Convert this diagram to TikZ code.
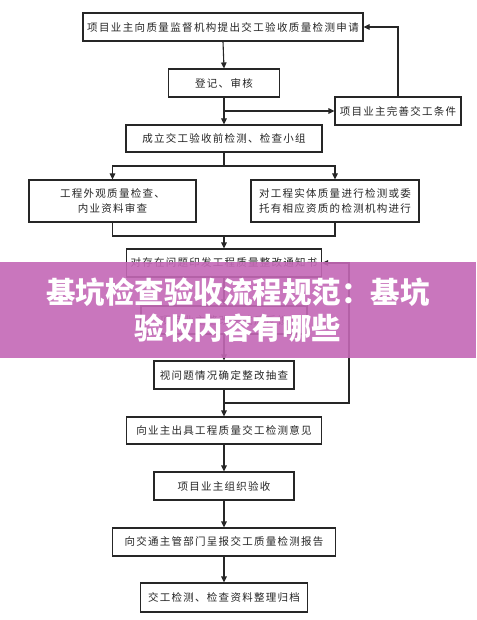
\documentclass[tikz,border=0pt]{standalone}
\usepackage{fontspec}
\setmainfont{Noto Sans CJK SC}
\newfontfamily\boxfont[LetterSpace=12]{Noto Sans CJK SC}
\newfontfamily\widefont[LetterSpace=13]{Noto Sans CJK SC}
\usetikzlibrary{arrows.meta}
\definecolor{bannerpink}{RGB}{196,104,182}
\begin{document}
\begin{tikzpicture}[x=1pt,y=-1pt,
  box/.style={draw=black!85, line width=1.1pt, rectangle, inner sep=0pt,
    font=\boxfont\fontsize{10.5}{15}\selectfont, text=black!85, align=center},
  conn/.style={draw=black!85, line width=1.1pt},
  arr/.style={conn, -{Triangle[length=6pt,width=5.5pt]}},
  banner/.style={fill=bannerpink, fill opacity=0.9, draw=none},
  bannertext/.style={text=white, font=\bfseries\fontsize{29.5}{36}\selectfont, align=center}]
\useasboundingbox (0,0) rectangle (476,620);
\fill[white] (0,0) rectangle (476,620);

\node[box, minimum width=280pt, minimum height=28pt, font=\widefont\fontsize{10.5}{15}\selectfont] (b1) at (223,27) {项目业主向质量监督机构提出交工验收质量检测申请};
\node[box, minimum width=111pt, minimum height=28pt] (b2) at (224,83) {登记、审核};
\node[box, minimum width=126pt, minimum height=28pt] (side) at (398,111) {项目业主完善交工条件};
\node[box, minimum width=196pt, minimum height=27pt] (b3) at (224,138.5) {成立交工验收前检测、检查小组};
\node[box, minimum width=167pt, minimum height=42pt] (b4l) at (112.5,201) {工程外观质量检查、\\内业资料审查};
\node[box, minimum width=168pt, minimum height=42pt] (b4r) at (335,201) {对工程实体质量进行检测或委\\托有相应资质的检测机构进行};
\node[box, minimum width=195pt, minimum height=28pt] (b5) at (224,263) {对存在问题印发工程质量整改通知书};
\node[box, minimum width=166pt, minimum height=28pt] (b6) at (224,320) {项目业主整改完成后反馈};
\node[box, minimum width=140pt, minimum height=28pt] (b7) at (224,375) {视问题情况确定整改抽查};
\node[box, minimum width=195pt, minimum height=27pt] (b8) at (224,430.5) {向业主出具工程质量交工检测意见};
\node[box, minimum width=140pt, minimum height=28pt] (b9) at (224,486) {项目业主组织验收};
\node[box, minimum width=223pt, minimum height=28pt] (b10) at (224,542) {向交通主管部门呈报交工质量检测报告};
\node[box, minimum width=167pt, minimum height=29pt] (b11) at (224,597.5) {交工检测、检查资料整理归档};

\coordinate (j1) at (224,111);
\coordinate (s1) at (224,166);
\coordinate (m1) at (224,236);
\coordinate (m2) at (224,403);
\coordinate (r1) at (349,403);

\draw[arr] (b1.south) -- (b2.north);
\draw[arr] (b2.south) -- (b3.north);
\draw[arr] (j1) -- (side.west);
\draw[arr] (side.north) |- (b1.east);
\draw[conn] (b3.south) -- (s1);
\draw[arr] (s1) -| (b4l.north);
\draw[arr] (s1) -| (b4r.north);
\draw[conn] (b4l.south) |- (m1) -| (b4r.south);
\draw[arr] (m1) -- (b5.north);
\draw[arr] (b5.south) -- (b6.north);
\draw[arr] (b6.south) -- (b7.north);
\draw[arr] (b7.south) -- (b8.north);
\draw[arr] (m2) -- (r1) |- (b5.east);
\draw[arr] (b8.south) -- (b9.north);
\draw[arr] (b9.south) -- (b10.north);
\draw[arr] (b10.south) -- (b11.north);

\path[banner] (0,262) rectangle (476,358);
\node[bannertext] (title) at (238,310) {基坑检查验收流程规范：基坑\\验收内容有哪些};
\end{tikzpicture}
\end{document}
